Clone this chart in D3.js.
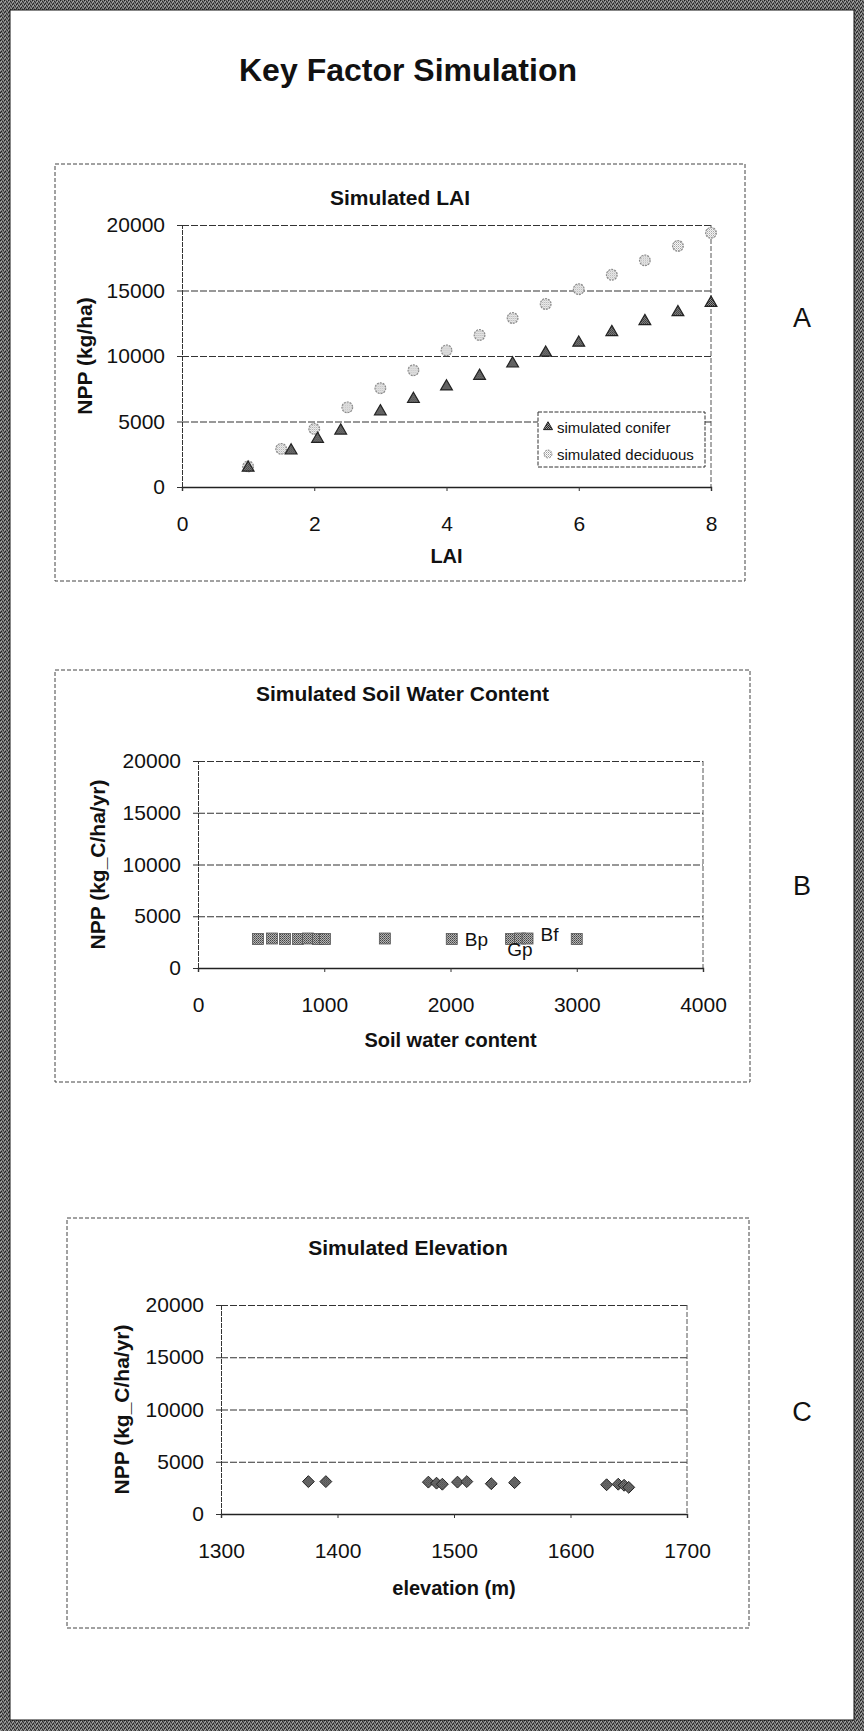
<!DOCTYPE html>
<html>
<head>
<meta charset="utf-8">
<script src="https://cdn.jsdelivr.net/npm/d3@7"></script>
<style>
  html, body { margin: 0; padding: 0; background: #fff; }
  svg { display: block; }
  text { font-family: "Liberation Sans", Arial, Helvetica, sans-serif; fill: #111; }
</style>
</head>
<body>
<svg id="page" width="864" height="1731"></svg>
<script>
// ---- Data -------------------------------------------------------------
const nppTicks = [0, 5000, 10000, 15000, 20000];

// Panel A: NPP against leaf area index
const laiTicks = [0, 2, 4, 6, 8];
const coniferLAI = [1, 1.65, 2.05, 2.4, 3, 3.5, 4, 4.5, 5, 5.5, 6, 6.5, 7, 7.5, 8];
const coniferNPP = [1470, 2780, 3670, 4300, 5770, 6710, 7670, 8480, 9420, 10250, 11010, 11820, 12660, 13340, 14050];
const deciduousLAI = [1, 1.5, 2, 2.5, 3, 3.5, 4, 4.5, 5, 5.5, 6, 6.5, 7, 7.5, 8];
const deciduousNPP = [1570, 2910, 4430, 6080, 7540, 8910, 10430, 11600, 12900, 13970, 15100, 16200, 17300, 18400, 19400];

// Panel B: NPP against soil water content
const soilTicks = [0, 1000, 2000, 3000, 4000];
const soilWater = [475, 586, 689, 792, 871, 950, 1005, 1480, 2010, 2480, 2550, 2610, 3000];
const soilNPP = [2800, 2850, 2800, 2800, 2850, 2800, 2800, 2850, 2800, 2800, 2850, 2850, 2800];
const soilLabels = ["", "", "", "", "", "", "", "", "Bp", "", "Gp", "Bf", ""];

// Panel C: NPP against elevation
const elevTicks = [1300, 1400, 1500, 1600, 1700];
const elevation = [1375, 1390, 1478, 1485, 1490, 1503, 1511, 1532, 1552, 1631, 1641, 1646, 1650];
const elevNPP = [3100, 3100, 3050, 2950, 2850, 3050, 3100, 2900, 3000, 2800, 2850, 2750, 2550];

// ---- Page -------------------------------------------------------------
const svg = d3.select("#page");
const defs = svg.append("defs");

function makePattern(id, size, bg, cells) {
  const p = defs.append("pattern").attr("id", id)
    .attr("width", size).attr("height", size)
    .attr("patternUnits", "userSpaceOnUse");
  p.append("rect").attr("width", size).attr("height", size).attr("fill", bg);
  cells.forEach(([x, y, c]) => p.append("rect").attr("x", x).attr("y", y)
    .attr("width", 1).attr("height", 1).attr("fill", c));
}
makePattern("frameTex", 4, "#6a6a6a", [[0,0,"#1e1e1e"],[2,1,"#2a2a2a"],[1,3,"#242424"],[3,2,"#333"],[1,1,"#b0b0b0"],[3,0,"#999"],[0,2,"#a5a5a5"],[2,3,"#8a8a8a"]]);
makePattern("darkTex", 2, "#9a9a9a", [[0,0,"#222"],[1,1,"#333"]]);
makePattern("midTex", 2, "#b5b5b5", [[0,0,"#444"],[1,1,"#666"]]);
makePattern("lightTex", 2, "#ffffff", [[0,0,"#9a9a9a"],[1,1,"#c8c8c8"]]);

// textured outer frame
svg.append("rect").attr("width", 864).attr("height", 1731).attr("fill", "url(#frameTex)");
svg.append("rect").attr("x", 10).attr("y", 10).attr("width", 844).attr("height", 1710)
  .attr("fill", "#fff").attr("stroke", "#111").attr("stroke-width", 1);

svg.append("text").attr("x", 408).attr("y", 70)
  .attr("text-anchor", "middle").attr("dominant-baseline", "central")
  .attr("font-size", 32).attr("font-weight", "bold").attr("textLength", 338)
  .text("Key Factor Simulation");

// ---- Panel drawing ----------------------------------------------------
function drawPanel(cfg) {
  const g = svg.append("g");
  const [bx0, by0, bx1, by1] = cfg.box;
  g.append("rect").attr("x", bx0).attr("y", by0)
    .attr("width", bx1 - bx0).attr("height", by1 - by0)
    .attr("fill", "none").attr("stroke", "#444").attr("stroke-width", 1)
    .attr("stroke-dasharray", "4,2");

  const x = d3.scaleLinear().domain(cfg.xDomain).range([cfg.plot.x0, cfg.plot.x1]);
  const y = d3.scaleLinear().domain([0, 20000]).range([cfg.plot.yb, cfg.plot.yt]);
  const pw = cfg.plot.x1 - cfg.plot.x0;

  // horizontal gridlines
  g.append("g").attr("transform", `translate(${cfg.plot.x0},0)`)
    .call(d3.axisLeft(y).tickValues(nppTicks.filter(v => v > 0)).tickSize(-pw).tickFormat(""))
    .call(s => s.select(".domain").remove())
    .call(s => s.selectAll(".tick line").attr("stroke", "#333").attr("stroke-width", 1.2)
      .attr("stroke-dasharray", "7,2"));

  // right border of the plot area
  g.append("line").attr("x1", cfg.plot.x1).attr("x2", cfg.plot.x1)
    .attr("y1", cfg.plot.yt).attr("y2", cfg.plot.yb)
    .attr("stroke", "#555").attr("stroke-width", 1).attr("stroke-dasharray", "5,2");

  // y axis
  g.append("g").attr("transform", `translate(${cfg.plot.x0},0)`)
    .call(d3.axisLeft(y).tickValues(nppTicks).tickSize(5).tickPadding(12).tickFormat(d3.format("d")))
    .call(s => s.select(".domain").attr("stroke", "#333").attr("stroke-dasharray", "5,1"))
    .call(s => s.selectAll(".tick line").attr("stroke", "#333"))
    .call(s => s.selectAll(".tick text").attr("font-size", 21).attr("fill", "#111")
      .attr("font-family", "Liberation Sans, Arial, sans-serif"));

  // x axis along NPP = 0
  g.append("g").attr("transform", `translate(0,${y(0)})`)
    .call(d3.axisBottom(x).tickValues(cfg.xTicks).tickSize(4).tickPadding(25).tickFormat(d3.format("d")))
    .call(s => s.select(".domain").attr("stroke", "#222").attr("stroke-width", 1.4))
    .call(s => s.selectAll(".tick line").attr("stroke", "#333"))
    .call(s => s.selectAll(".tick text").attr("font-size", 21).attr("fill", "#111")
      .attr("font-family", "Liberation Sans, Arial, sans-serif"));

  // titles
  g.append("text").attr("x", (bx0 + bx1) / 2).attr("y", cfg.titleY)
    .attr("text-anchor", "middle").attr("dominant-baseline", "central")
    .attr("font-size", 21).attr("font-weight", "bold").text(cfg.title);
  g.append("text").attr("x", (cfg.plot.x0 + cfg.plot.x1) / 2).attr("y", cfg.xTitleY)
    .attr("text-anchor", "middle").attr("dominant-baseline", "central")
    .attr("font-size", 20).attr("font-weight", "bold").text(cfg.xTitle);
  g.append("text")
    .attr("transform", `translate(${cfg.yTitleX},${(cfg.plot.yt + cfg.plot.yb) / 2}) rotate(-90)`)
    .attr("text-anchor", "middle").attr("dominant-baseline", "central")
    .attr("font-size", 21).attr("font-weight", "bold").text(cfg.yTitle);

  // panel letter
  svg.append("text").attr("x", 802).attr("y", cfg.letterY)
    .attr("text-anchor", "middle").attr("dominant-baseline", "central")
    .attr("font-size", 27).text(cfg.letter);

  return { g, x, y };
}

// ---- Panel A ----------------------------------------------------------
const A = drawPanel({
  box: [55, 164, 745, 581],
  plot: { x0: 182, x1: 711, yb: 487, yt: 225 },
  xDomain: [0, 8], xTicks: laiTicks,
  title: "Simulated LAI", titleY: 197,
  xTitle: "LAI", xTitleY: 556,
  yTitle: "NPP (kg/ha)", yTitleX: 84,
  letter: "A", letterY: 318
});
const triSym = d3.symbol().type(d3.symbolTriangle);
const circSym = d3.symbol().type(d3.symbolCircle);

A.g.append("g").selectAll("path").data(deciduousLAI.map((v, i) => [v, deciduousNPP[i]]))
  .join("path")
  .attr("d", circSym.size(90)())
  .attr("transform", d => `translate(${A.x(d[0])},${A.y(d[1])})`)
  .attr("fill", "url(#lightTex)").attr("stroke", "#8a8a8a").attr("stroke-width", 1.2)
  .attr("stroke-dasharray", "2,1");

A.g.append("g").selectAll("path").data(coniferLAI.map((v, i) => [v, coniferNPP[i]]))
  .join("path")
  .attr("d", triSym.size(60)())
  .attr("transform", d => `translate(${A.x(d[0])},${A.y(d[1])})`)
  .attr("fill", "url(#darkTex)").attr("stroke", "#222").attr("stroke-width", 1.2);

// legend
const lg = A.g.append("g");
lg.append("rect").attr("x", 538).attr("y", 412).attr("width", 167).attr("height", 55)
  .attr("fill", "#fff").attr("stroke", "#333").attr("stroke-width", 1).attr("stroke-dasharray", "4,1.5");
lg.append("path").attr("d", triSym.size(36)()).attr("transform", "translate(548,427)")
  .attr("fill", "url(#darkTex)").attr("stroke", "#222");
lg.append("path").attr("d", circSym.size(50)()).attr("transform", "translate(548,454)")
  .attr("fill", "url(#lightTex)").attr("stroke", "#999").attr("stroke-dasharray", "2,1");
lg.append("text").attr("x", 557).attr("y", 427).attr("dominant-baseline", "central")
  .attr("font-size", 15).text("simulated conifer");
lg.append("text").attr("x", 557).attr("y", 454).attr("dominant-baseline", "central")
  .attr("font-size", 15).text("simulated deciduous");

// ---- Panel B ----------------------------------------------------------
const B = drawPanel({
  box: [55, 670, 750, 1082],
  plot: { x0: 198, x1: 703, yb: 968, yt: 761 },
  xDomain: [0, 4000], xTicks: soilTicks,
  title: "Simulated Soil Water Content", titleY: 693,
  xTitle: "Soil water content", xTitleY: 1040,
  yTitle: "NPP (kg_C/ha/yr)", yTitleX: 97,
  letter: "B", letterY: 886
});
const soilPts = soilWater.map((v, i) => ({ x: v, y: soilNPP[i], label: soilLabels[i] }));
B.g.append("g").selectAll("rect").data(soilPts).join("rect")
  .attr("x", d => B.x(d.x) - 5.5).attr("y", d => B.y(d.y) - 5.5)
  .attr("width", 11).attr("height", 11)
  .attr("fill", "url(#midTex)").attr("stroke", "#555").attr("stroke-width", 0.8);

// data labels: right of the point, except Gp which sits underneath
B.g.append("g").selectAll("text").data(soilPts.filter(d => d.label)).join("text")
  .attr("x", d => d.label === "Gp" ? B.x(d.x) : B.x(d.x) + 13)
  .attr("y", d => d.label === "Gp" ? B.y(d.y) + 11 : (d.label === "Bf" ? B.y(d.y) - 4 : B.y(d.y)))
  .attr("text-anchor", d => d.label === "Gp" ? "middle" : "start")
  .attr("dominant-baseline", "central")
  .attr("font-size", 19).text(d => d.label);

// ---- Panel C ----------------------------------------------------------
const C = drawPanel({
  box: [67, 1218, 749, 1628],
  plot: { x0: 221, x1: 687, yb: 1514, yt: 1305 },
  xDomain: [1300, 1700], xTicks: elevTicks,
  title: "Simulated Elevation", titleY: 1247,
  xTitle: "elevation (m)", xTitleY: 1588,
  yTitle: "NPP (kg_C/ha/yr)", yTitleX: 121,
  letter: "C", letterY: 1412
});
const diaSym = d3.symbol().type(d3.symbolDiamond2).size(90);
C.g.append("g").selectAll("path").data(elevation.map((v, i) => [v, elevNPP[i]]))
  .join("path")
  .attr("d", diaSym())
  .attr("transform", d => `translate(${C.x(d[0])},${C.y(d[1])})`)
  .attr("fill", "url(#darkTex)").attr("stroke", "#222").attr("stroke-width", 1);
</script>
</body>
</html>
